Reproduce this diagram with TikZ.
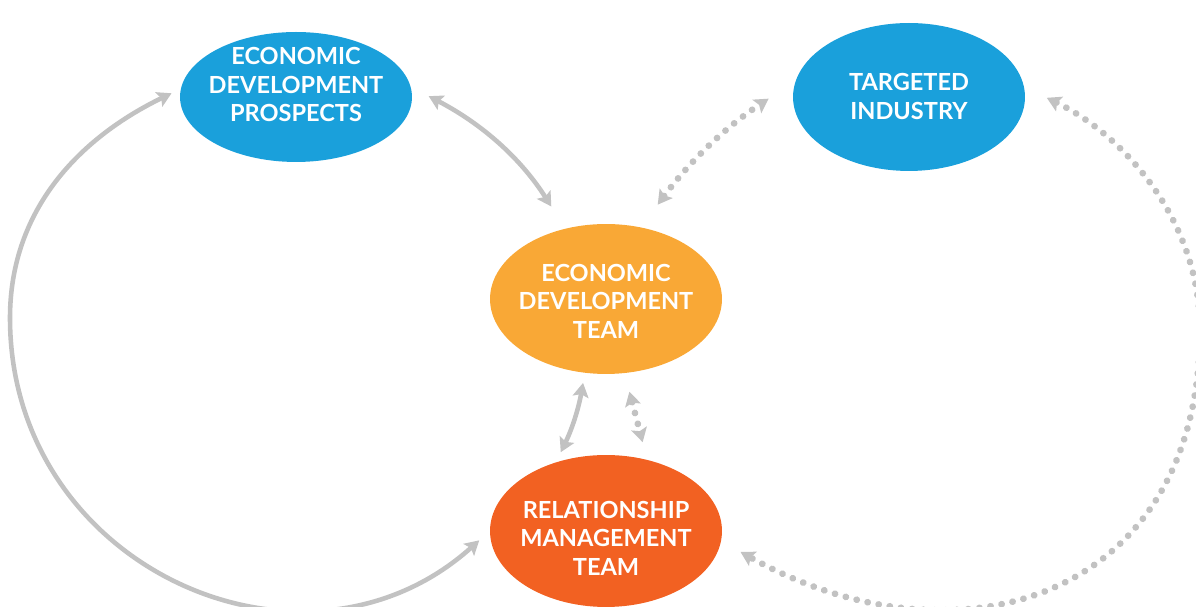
\documentclass[tikz,border=0pt]{standalone}
\usepackage{fontspec}
\setmainfont{Lato}
\usetikzlibrary{arrows.meta,shapes.geometric}

\definecolor{prospectblue}{HTML}{1AA0DB}
\definecolor{teamorange}{HTML}{F9A836}
\definecolor{relationred}{HTML}{F26122}
\definecolor{linkgray}{HTML}{C2C2C2}

% text block, lifted or lowered inside its oval
\newcommand{\ovaltext}[2]{\makebox[0pt]{\raisebox{#1}[0pt][0pt]{\begin{tabular}{@{}c@{}}#2\end{tabular}}}}

\begin{document}
\begin{tikzpicture}[x=0.02cm, y=0.02cm,
  oval/.style={ellipse, inner sep=0pt, minimum width=4.64cm, text=white,
    font=\fontsize{13.4pt}{16.2pt}\selectfont\bfseries},
  link/.style={draw=linkgray, line width=2.6pt,
    {Stealth[length=8pt,width=9pt,inset=1.5pt]}-{Stealth[length=8pt,width=9pt,inset=1.5pt]}},
  dotlink/.style={draw=linkgray, line width=3.8pt, line cap=round,
    dash pattern=on 0.1pt off 6.3pt,
    {Stealth[length=8pt,width=9pt,inset=1.5pt]}-{Stealth[length=8pt,width=9pt,inset=1.5pt]}}]
\useasboundingbox (0,0) rectangle (1196,607);

% the four ovals
\node[oval, fill=prospectblue, minimum height=2.6cm] (edp) at (296,510)
  {\ovaltext{1.9pt}{ECONOMIC\\DEVELOPMENT\\PROSPECTS}};
\node[oval, fill=prospectblue, minimum height=2.96cm] (ti) at (909,510)
  {\ovaltext{-4.8pt}{TARGETED\\INDUSTRY}};
\node[oval, fill=teamorange, minimum height=3cm] (edt) at (606,308)
  {\ovaltext{-6.6pt}{ECONOMIC\\DEVELOPMENT\\TEAM}};
\node[oval, fill=relationred, minimum height=3.04cm] (rmt) at (606,76)
  {\ovaltext{-9.3pt}{RELATIONSHIP\\MANAGEMENT\\TEAM}};

% short links
\draw[link, shorten <=0.4cm, shorten >=0.52cm] (edp.5) to[bend left=15] (edt.120);
\draw[dotlink, shorten <=0.56cm, shorten >=0.64cm] (edt.64) to[bend left=10] (ti.172);
\draw[link, shorten <=0.2cm, shorten >=0.22cm] (edt.254) to[bend left=8] (rmt.126);
\draw[dotlink, shorten <=0.38cm, shorten >=0.36cm] (edt.284) -- (rmt.60);

% big outer loops
\draw[link, shorten <=0.2cm, shorten >=0.28cm] (edp.176)
  .. controls +(-99,-48) and +(0,110) .. (10,289)
  .. controls +(0,-250) and +(-186,-167) .. (rmt.west);
\draw[dotlink, shorten <=0.5cm, shorten >=0.44cm] (ti.5)
  .. controls +(99,-48) and +(0,110) .. (1200,277)
  .. controls +(0,-270) and +(235,-132) .. (rmt.355);
\end{tikzpicture}
\end{document}
